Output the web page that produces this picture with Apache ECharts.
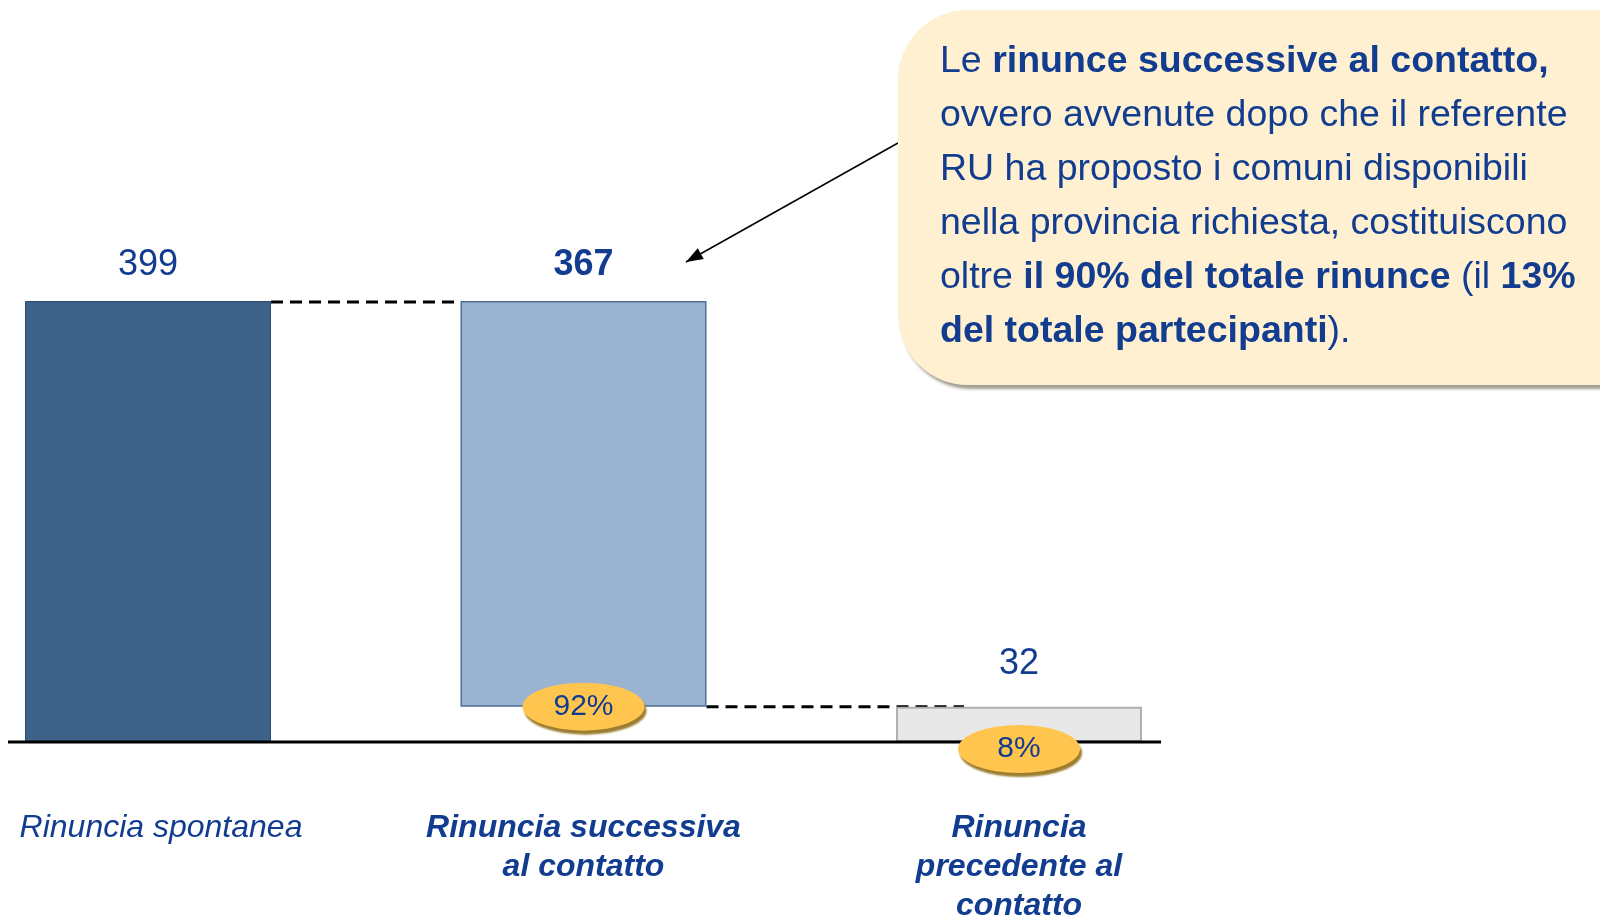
<!DOCTYPE html>
<html>
<head>
<meta charset="utf-8">
<script src="https://cdn.jsdelivr.net/npm/echarts@6/dist/echarts.min.js"></script>
<style>
  html, body { margin: 0; padding: 0; background: #fff; }
  #chart { width: 1600px; height: 917px; }
</style>
</head>
<body>
<div id="chart"></div>
<script>
const categories = ["Rinuncia spontanea", "Rinuncia successiva\nal contatto", "Rinuncia\nprecedente al\ncontatto"];
const baseValues = [0, 32, 0];
const barValues = [399, 367, 32];
const percentLabels = ["", "92%", "8%"];
const calloutText = [
  "{n|Le }{b|rinunce successive al contatto,}",
  "{n|ovvero avvenute dopo che il referente}",
  "{n|RU ha proposto i comuni disponibili}",
  "{n|nella provincia richiesta, costituiscono}",
  "{n|oltre }{b|il 90% del totale rinunce}{n| (il }{b|13%}",
  "{b|del totale partecipanti}{n|).}"
];

const BLUE = "#113c8f";
const FONT = "'Liberation Sans', Arial, sans-serif";
const barColors = [
  { color: "#3d6188", borderColor: "#2c4a6c", borderWidth: 1 },
  { color: "#9ab3d1", borderColor: "#4d6f98", borderWidth: 1.5 },
  { color: "#e8e8e8", borderColor: "#b0b0b0", borderWidth: 2 }
];

const chart = echarts.init(document.getElementById("chart"));

const option = {
  animation: false,
  grid: { left: 148, width: 871, top: 301, bottom: 175, outerBoundsMode: "none", containLabel: false },
  xAxis: {
    type: "category",
    boundaryGap: false,
    data: categories.map((c, i) => i === 0
      ? { value: c, textStyle: { padding: [0, 0, 0, 26] } }
      : { value: c, textStyle: { fontWeight: "bold" } }),
    axisLine: { show: false },
    axisTick: { show: false },
    axisLabel: {
      interval: 0, margin: 67, color: BLUE, fontSize: 32, fontStyle: "italic",
      fontFamily: FONT, lineHeight: 39
    }
  },
  yAxis: { type: "value", min: 0, max: 399, show: false, splitLine: { show: false } },
  series: [
    {
      type: "bar", stack: "w", barWidth: 246, clip: false, data: baseValues,
      itemStyle: { color: "transparent" }, silent: true
    },
    {
      type: "bar", stack: "w", barWidth: 246, clip: false,
      data: barValues.map((v, i) => ({
        value: v,
        itemStyle: barColors[i],
        label: { fontWeight: i === 1 ? "bold" : "normal", distance: i === 2 ? 25 : 18 }
      })),
      label: { show: true, position: "top", color: BLUE, fontSize: 36, fontFamily: FONT }
    },
    {
      type: "scatter", clip: false, z: 5,
      symbol: "path://M0 50 A50 50 0 1 1 100 50 A50 50 0 1 1 0 50 Z",
      symbolKeepAspect: false,
      symbolSize: [122, 48],
      data: percentLabels.map((p, i) => p ? {
        value: [i, baseValues[i]],
        symbolOffset: [0, i === 2 ? 7 : 0],
        label: { formatter: p }
      } : null).filter(Boolean),
      itemStyle: {
        color: "#ffc54f", opacity: 1,
        shadowColor: "#9c7d2f", shadowBlur: 2, shadowOffsetX: 2, shadowOffsetY: 4
      },
      label: { show: true, position: "inside", color: BLUE, fontSize: 30, fontFamily: FONT }
    }
  ]
};
chart.setOption(option);

// decorations positioned from the axes
const px = (i, v) => chart.convertToPixel({ gridIndex: 0 }, [i, v]);
const half = 123;
const [c0, yTop] = px(0, 399);
const [c1] = px(1, 399);
const [, yMid] = px(1, 32);
const [c2, y0] = px(2, 0);

const arrowFrom = [898, 143], arrowTo = [686, 262];
const ang = Math.atan2(arrowTo[1] - arrowFrom[1], arrowTo[0] - arrowFrom[0]);
const head = (a, len) => [arrowTo[0] - len * Math.cos(ang + a), arrowTo[1] - len * Math.sin(ang + a)];

chart.setOption({
  graphic: [
    { type: "line", shape: { x1: 8, y1: y0, x2: 1161, y2: y0 }, style: { stroke: "#000", lineWidth: 3 }, z: 3 },
    { type: "line", shape: { x1: c0 + half, y1: yTop + 1, x2: c1 - half, y2: yTop + 1 },
      style: { stroke: "#000", lineWidth: 3, lineDash: [12, 7] } },
    { type: "line", shape: { x1: c1 + half, y1: yMid, x2: c2 - 55, y2: yMid },
      style: { stroke: "#000", lineWidth: 3, lineDash: [12, 7] }, z: 1 },
    { type: "line", shape: { x1: arrowFrom[0], y1: arrowFrom[1], x2: arrowTo[0], y2: arrowTo[1] },
      style: { stroke: "#000", lineWidth: 1.5 } },
    { type: "polygon", shape: { points: [arrowTo, head(0.35, 18), head(-0.35, 18)] }, style: { fill: "#000" } },
    {
      type: "rect", shape: { x: 898, y: 10, width: 780, height: 375, r: 70 },
      style: { fill: "#fef0d0", shadowColor: "rgba(90,80,60,0.55)", shadowBlur: 3, shadowOffsetX: 3, shadowOffsetY: 4 },
      z: 20
    },
    {
      type: "text", x: 940, y: 35, z: 21,
      style: {
        text: calloutText.join("\n"),
        verticalAlign: "top",
        rich: {
          n: { fontSize: 37.5, fontFamily: FONT, fill: BLUE, lineHeight: 54 },
          b: { fontSize: 37.5, fontFamily: FONT, fill: BLUE, lineHeight: 54, fontWeight: "bold" }
        }
      }
    }
  ]
});
</script>
</body>
</html>
